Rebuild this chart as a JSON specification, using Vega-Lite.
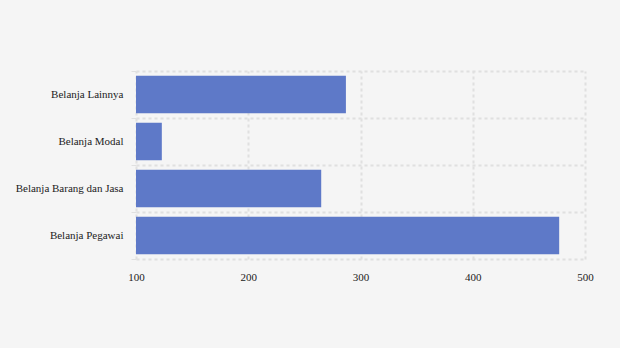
{
  "$schema": "https://vega.github.io/schema/vega-lite/v6.json",
  "width": 449,
  "height": 188,
  "autosize": {"type": "none"},
  "padding": {"left": 136, "top": 71, "right": 35, "bottom": 89},
  "background": "#f5f5f5",
  "config": {
    "view": {"stroke": null},
    "font": "serif",
    "axis": {
      "labelFont": "serif",
      "labelFontSize": 11,
      "labelColor": "#222222",
      "domain": false,
      "gridColor": "#e0e0e0",
      "gridDash": [3, 3],
      "gridWidth": 2,
      "title": null
    }
  },
  "data": {
    "values": [
      {"kategori": "Belanja Lainnya", "nilai": 287},
      {"kategori": "Belanja Modal", "nilai": 123},
      {"kategori": "Belanja Barang dan Jasa", "nilai": 265},
      {"kategori": "Belanja Pegawai", "nilai": 477}
    ]
  },
  "mark": {"type": "bar", "color": "#5e79c8", "height": {"band": 0.8}},
  "encoding": {
    "y": {
      "field": "kategori",
      "type": "nominal",
      "sort": null,
      "scale": {"paddingInner": 0, "paddingOuter": 0},
      "axis": {"grid": true, "tickBand": "extent", "ticks": true, "tickColor": "#e0e0e0", "tickSize": 5, "labelPadding": 8}
    },
    "x": {
      "field": "nilai",
      "type": "quantitative",
      "scale": {"domain": [100, 500], "zero": false, "nice": false},
      "axis": {"values": [100, 200, 300, 400, 500], "ticks": false, "labelPadding": 12, "labelFlush": false, "grid": true}
    },
    "x2": {"datum": 100}
  }
}
